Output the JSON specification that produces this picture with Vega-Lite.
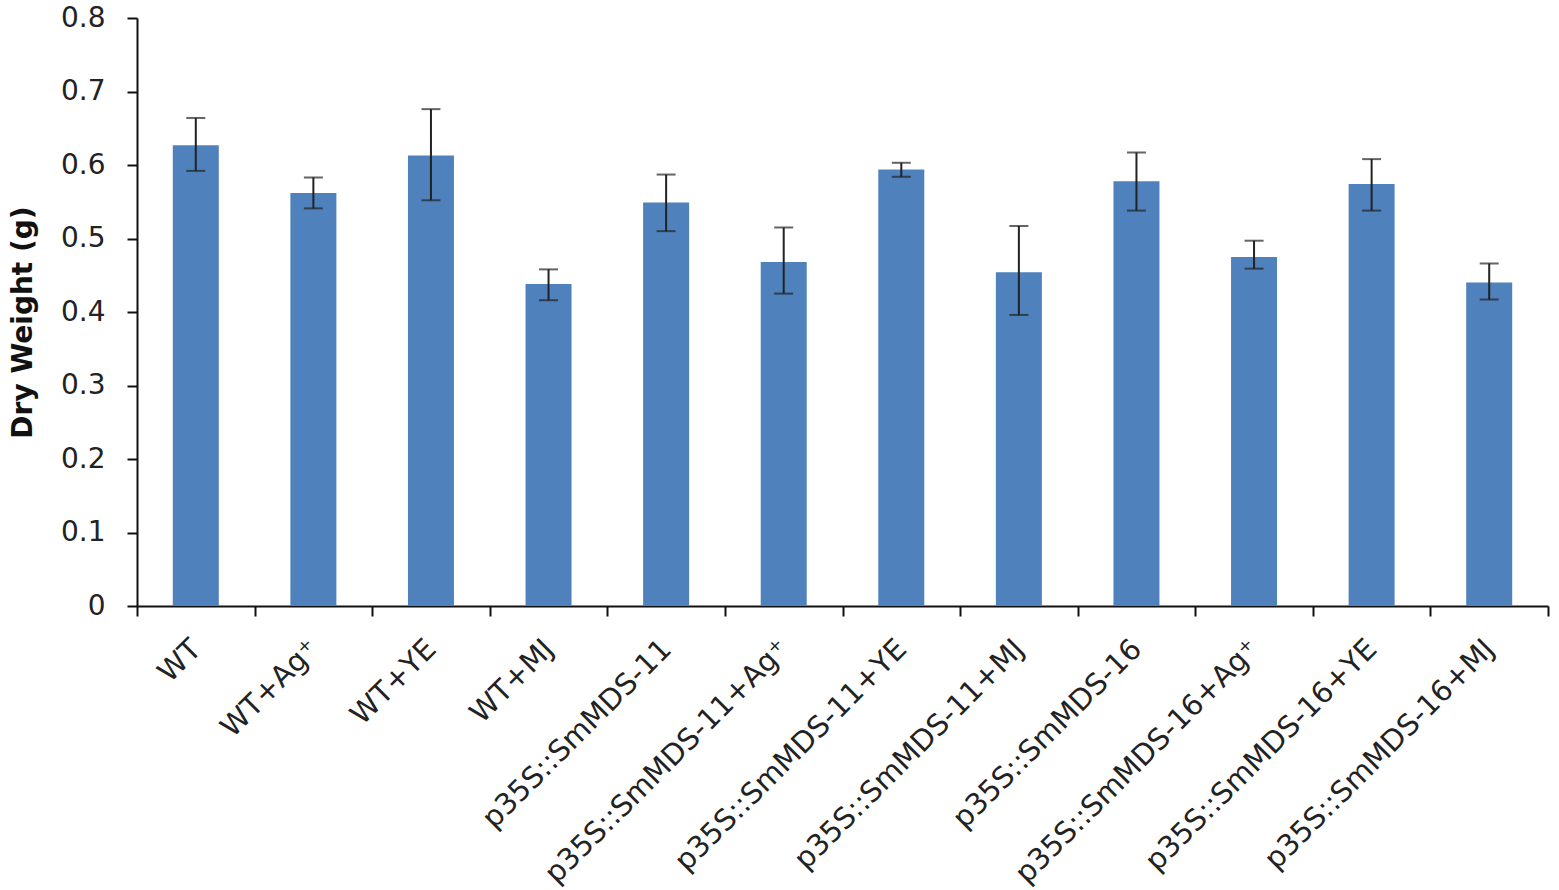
{
  "$schema": "https://vega.github.io/schema/vega-lite/v6.json",
  "autosize": "none",
  "padding": {"left": 137, "top": 18, "right": 11, "bottom": 284},
  "width": 1411,
  "height": 588,
  "background": "white",
  "config": {
    "view": {"stroke": null},
    "font": "DejaVu Sans",
    "axis": {"labelFont": "DejaVu Sans", "titleFont": "DejaVu Sans", "labelColor": "#222222", "domainColor": "#111111", "tickColor": "#111111", "grid": false}
  },
  "data": {
    "values": [
      {"group": "WT", "mean": 0.627, "lo": 0.592, "hi": 0.664},
      {"group": "WT+Ag⁺", "mean": 0.562, "lo": 0.541, "hi": 0.583},
      {"group": "WT+YE", "mean": 0.613, "lo": 0.552, "hi": 0.676},
      {"group": "WT+MJ", "mean": 0.438, "lo": 0.416, "hi": 0.458},
      {"group": "p35S::SmMDS-11", "mean": 0.549, "lo": 0.510, "hi": 0.587},
      {"group": "p35S::SmMDS-11+Ag⁺", "mean": 0.468, "lo": 0.425, "hi": 0.515},
      {"group": "p35S::SmMDS-11+YE", "mean": 0.594, "lo": 0.584, "hi": 0.603},
      {"group": "p35S::SmMDS-11+MJ", "mean": 0.454, "lo": 0.396, "hi": 0.517},
      {"group": "p35S::SmMDS-16", "mean": 0.578, "lo": 0.538, "hi": 0.617},
      {"group": "p35S::SmMDS-16+Ag⁺", "mean": 0.475, "lo": 0.459, "hi": 0.497},
      {"group": "p35S::SmMDS-16+YE", "mean": 0.574, "lo": 0.538, "hi": 0.608},
      {"group": "p35S::SmMDS-16+MJ", "mean": 0.440, "lo": 0.417, "hi": 0.466}
    ]
  },
  "encoding": {
    "x": {
      "field": "group", "type": "nominal", "sort": null,
      "scale": {"paddingInner": 0, "paddingOuter": 0},
      "axis": {
        "title": null, "labelAngle": -45, "labelFontSize": 29, "labelPadding": 28,
        "tickBand": "extent", "tickSize": 10, "tickWidth": 2, "domainWidth": 2,
        "labelAlign": "right", "labelBaseline": "middle", "labelLimit": 500
      }
    }
  },
  "layer": [
    {
      "mark": {"type": "bar", "color": "#4F81BD", "size": 46},
      "encoding": {
        "y": {
          "field": "mean", "type": "quantitative",
          "scale": {"domain": [0, 0.8], "nice": false},
          "axis": {
            "title": "Dry Weight (g)", "titleFontSize": 28, "titleFontWeight": "bold", "titleColor": "#111111",
            "values": [0, 0.1, 0.2, 0.3, 0.4, 0.5, 0.6, 0.7, 0.8], "format": ".1~f",
            "labelFontSize": 28, "labelPadding": 22, "tickSize": 10, "tickWidth": 2, "domainWidth": 2,
            "titlePadding": 23, "titleY": 304
          }
        }
      }
    },
    {
      "mark": {"type": "rule", "color": "#222222", "strokeWidth": 2},
      "encoding": {"y": {"field": "lo", "type": "quantitative"}, "y2": {"field": "hi"}}
    },
    {
      "mark": {"type": "tick", "color": "#222222", "size": 19, "thickness": 2},
      "encoding": {"y": {"field": "lo", "type": "quantitative"}}
    },
    {
      "mark": {"type": "tick", "color": "#222222", "size": 19, "thickness": 2},
      "encoding": {"y": {"field": "hi", "type": "quantitative"}}
    }
  ]
}
